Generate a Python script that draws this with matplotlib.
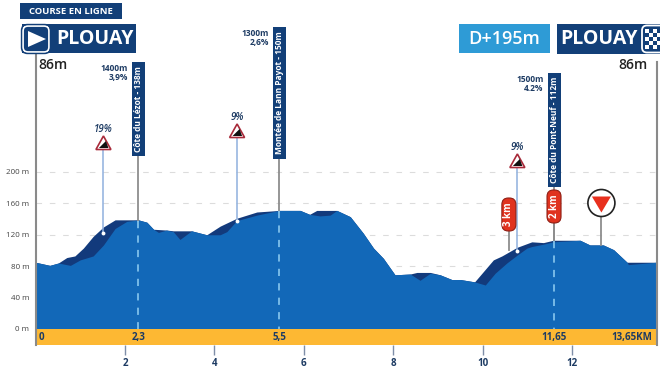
import matplotlib
matplotlib.use('Agg')
import matplotlib.pyplot as plt
from matplotlib.patches import Rectangle, FancyBboxPatch, Polygon, Circle
import numpy as np

plt.rcParams['font.family'] = ['Open Sans', 'DejaVu Sans']

# profil (km, m)
top_km = [0, .32, .51, .70, .88, 1.07, 1.29, 1.52, 1.78, 2.30, 2.49, 2.64, 2.93, 3.08, 3.49, 3.83, 4.13,
          4.50, 4.95, 5.45, 5.92, 6.13, 6.29, 6.74, 7.04, 7.33, 7.56, 7.78, 8.04, 8.38, 8.53, 8.83, 9.05,
          9.31, 9.50, 9.82, 10.24, 10.43, 10.77, 11.10, 11.36, 11.58, 12.18, 12.40, 12.70, 12.93, 13.23, 13.89]
top_m = [85, 81, 84, 91, 93, 103, 118, 130, 139, 139, 136, 127, 126, 125, 125, 120, 131,
         141, 149, 151, 151, 146, 151, 151, 143, 122, 103, 90, 69, 70, 72, 72, 69,
         63, 63, 60, 88, 93, 104, 111, 110, 113, 113, 107, 107, 101, 85, 85]
low_km = [0, .32, .51, .78, 1.0, 1.29, 1.52, 1.78, 2.04, 2.30, 2.49, 2.64, 2.75, 2.93, 3.08, 3.23, 3.49, 3.83,
          4.13, 4.28, 4.50, 4.95, 5.45, 5.92, 6.13, 6.36, 6.59, 6.74, 7.04, 7.33, 7.56, 7.78, 8.04, 8.38, 8.60, 8.83, 9.05,
          9.31, 9.50, 9.82, 10.06, 10.28, 10.54, 10.77, 10.99, 11.10, 11.36, 11.58, 12.18, 12.40, 12.70, 12.93, 13.23, 13.26, 13.89]
low_m = [85, 81, 84, 81, 88, 93, 107, 128, 137, 139, 136, 127, 123, 126, 124, 114, 125, 120,
         120, 124, 138, 145, 151, 151, 146, 144, 145, 151, 143, 122, 103, 90, 69, 70, 62, 71, 69,
         63, 63, 60, 56, 71, 84, 94, 103, 105, 108, 111, 113, 107, 107, 101, 85, 82, 85]

y_ticks = [0, 40, 80, 120, 160, 200]
x_ticks = [2, 4, 6, 8, 10, 12]
band_km = [0, 2.3, 5.45, 11.6]
band_labels = ['0', '2,3', '5,5', '11,65']
end_label = '13,65KM'

# ascensions
cols = ['Côte du Lézot - 138m', 'Montée de Lann Payot - 150m', 'Côte du Pont-Neuf - 112m']
col_km = [2.3, 5.45, 11.6]
col_alt = [138, 150, 112]
col_info = ['1400m\n3,9%', '1300m\n2,6%', '1500m\n4.2%']
# pourcentages
pct_km = [1.52, 4.51, 10.78]
pct_alt = [122, 138, 99]
pct_labels = ['19%', '9%', '9%']
# bornes km
km_labels = ['3 km', '2 km']
km_pos = [10.59, 11.6]
km_alt = [100, 112]
flamme_km = 12.66
flamme_alt = 107

NAVY = '#123F78'
DARK = '#123A7C'
BLUE = '#1268B8'
YELLOW = '#FDB833'
SKY = '#2E9BD6'
RED = '#E0321E'
TXT = '#1D3B63'

fig = plt.figure(figsize=(6.6, 3.7), dpi=100)
ax = fig.add_axes([35.5 / 660, 25 / 370, 621.5 / 660, 345 / 370])
ax.set_xlim(0, 13.9)
ax.set_ylim(-20.4, 419)

xs = np.array(top_km)
ax.fill_between(xs, 0, top_m, color=DARK, lw=0, zorder=2)
ax.fill_between(low_km, 0, low_m, color=BLUE, lw=0, zorder=3)
ax.axhspan(-20.4, 0, color=YELLOW, lw=0, zorder=3)

ax.set_yticks(y_ticks)
ax.set_yticklabels([f'{v} m' for v in y_ticks], fontsize=5.8, color='#444444')
ax.set_xticks(x_ticks)
ax.set_xticklabels(x_ticks, fontsize=7, fontweight='bold', color=TXT)
ax.tick_params(axis='y', length=0, pad=4.5)
ax.tick_params(axis='x', length=7, width=1, color='#7f8ea8', pad=2.5)
ax.grid(axis='y', color='#dcdcdc', ls=(0, (5, 7)), lw=0.8, zorder=1)
ax.set_axisbelow(True)
for s in ['top', 'bottom']:
    ax.spines[s].set_visible(False)
ax.spines['left'].set_bounds(-20.4, 352)
ax.spines['right'].set_bounds(-20.4, 340)
for s in ['left', 'right']:
    ax.spines[s].set_color('#8a8a8a')
    ax.spines[s].set_linewidth(1.5)
    ax.spines[s].set_zorder(5)

for km, lab in zip(band_km, band_labels):
    ha = 'left' if km == 0 else 'center'
    ax.text(km + (.06 if km == 0 else 0), -10.5, lab, ha=ha, va='center', fontsize=7, fontweight='bold', color=TXT, zorder=6)
ax.text(13.8, -10.5, end_label, ha='right', va='center', fontsize=7, fontweight='bold', color=TXT, zorder=6)

# calque en pixels pour les cartouches et pictos
ov = fig.add_axes([0, 0, 1, 1], facecolor='none')
ov.set_xlim(0, 660)
ov.set_ylim(370, 0)
ov.axis('off')


def kx(km):
    return 35.5 + km * 44.7


def my(m):
    return 329 - m * 0.785


# cartouches du haut
ov.add_patch(Rectangle((20, 3), 102, 16, color=NAVY, lw=0))
ov.text(71, 11.5, 'COURSE EN LIGNE', color='white', fontsize=6.8, fontweight='bold', ha='center', va='center')
ov.add_patch(Rectangle((22, 24), 114, 29, color=NAVY, lw=0))
ov.add_patch(FancyBboxPatch((23, 26), 26, 26, boxstyle='round,pad=0,rounding_size=5', fc=NAVY, ec='white', lw=1.3, zorder=3))
ov.add_patch(FancyBboxPatch((21.5, 24.5), 29, 29, boxstyle='round,pad=0,rounding_size=6', fc='none', ec=NAVY, lw=1, zorder=3))
ov.add_patch(Polygon([(28, 31), (46, 39), (28, 47)], color='white', lw=0, zorder=4))
ov.text(94.5, 39, 'PLOUAY', color='white', fontsize=14, fontweight='bold', ha='center', va='center')

ov.add_patch(Rectangle((459, 24), 91, 29, color=SKY, lw=0))
ov.text(504.5, 38.5, 'D+195m', color='white', fontsize=13, ha='center', va='center', fontweight='semibold')
ov.add_patch(Rectangle((557, 24), 103, 30, color=NAVY, lw=0))
ov.text(599.5, 39, 'PLOUAY', color='white', fontsize=14, fontweight='bold', ha='center', va='center')
ov.add_patch(FancyBboxPatch((642, 25.5), 24, 27, boxstyle='round,pad=0,rounding_size=5', fc=NAVY, ec='white', lw=1.3, zorder=3, clip_on=True))
for i in range(4):
    for j in range(5):
        if (i + j) % 2 == 0:
            ov.add_patch(Rectangle((645 + i * 4, 29 + j * 4), 4, 4, color='white', lw=0, zorder=4))

ov.text(38, 65, '86m', fontsize=10, color='#222222', fontweight='semibold', ha='left', va='center')
ov.text(648, 65, '86m', fontsize=10, color='#222222', fontweight='semibold', ha='right', va='center')

# ascensions
box_y = [(62, 156), (27, 159), (73, 187)]
for km, alt, name, info, (y0, y1) in zip(col_km, col_alt, cols, col_info, box_y):
    x = kx(km)
    ov.plot([x, x], [y1, my(alt)], color='#8d8d8d', lw=1.3, zorder=2)
    ov.plot([x, x], [my(alt), 329], color='#7fc0ea', lw=1.3, ls=(0, (4, 4)), zorder=4)
    ov.add_patch(Rectangle((x - 6.5, y0), 13, y1 - y0, color=NAVY, lw=0, zorder=3))
    ov.text(x, (y0 + y1) / 2, name, rotation=90, color='white', fontsize=6, fontweight='bold', ha='center', va='center', zorder=4)
    ov.text(x - 10.5, y0 + 2, info, color=TXT, fontsize=6, fontweight='bold', ha='right', va='top', linespacing=1.05, zorder=4)

# triangles de pente
tips = [136, 124, 154]
for km, alt, lab, tip in zip(pct_km, pct_alt, pct_labels, tips):
    x, y = kx(km), my(alt)
    ov.plot([x, x], [tip + 13, y], color='#8fb0de', lw=1.1, zorder=2)
    ov.add_patch(Polygon([(x, tip), (x + 7.5, tip + 13.5), (x - 7.5, tip + 13.5)], fc='white', ec='#A82A3A', lw=1.2, zorder=4))
    ov.add_patch(Polygon([(x - 4.5, tip + 12), (x + 5, tip + 12), (x + 2.5, tip + 5)], fc='#111111', lw=0, zorder=5))
    ov.text(x, tip - 7, lab, color=TXT, fontsize=7, fontweight='semibold', style='italic', ha='center', va='center')
    ov.plot([x], [y], 'o', color='white', ms=2.8, mew=0, zorder=6)

# bornes rouges
pill_y = [(198, 231), (190, 223)]
for km, alt, lab, (y0, y1) in zip(km_pos, km_alt, km_labels, pill_y):
    x = kx(km)
    ov.plot([x, x], [y1, my(alt) - 1], color='#8d8d8d', lw=1.3, zorder=3)
    ov.add_patch(FancyBboxPatch((x - 7, y0), 14, y1 - y0, boxstyle='round,pad=0,rounding_size=6.5', fc=RED, ec='#8E1E14', lw=0.8, zorder=5))
    ov.text(x, (y0 + y1) / 2, lab, rotation=90, color='white', fontsize=7, fontweight='bold', ha='center', va='center', zorder=6)

# flamme rouge
fx, fy = kx(flamme_km), 203
ov.plot([fx, fx], [fy + 13, my(flamme_alt)], color='#8d8d8d', lw=1.3, zorder=3)
ov.add_patch(Circle((fx, fy), 13.5, fc='white', ec='#222222', lw=1.2, zorder=5))
ov.add_patch(Polygon([(fx - 9.5, fy - 6.5), (fx + 9.5, fy - 6.5), (fx, fy + 9.5)], color='#E8301E', lw=0, zorder=6))

fig.savefig('out.png', dpi=100)
